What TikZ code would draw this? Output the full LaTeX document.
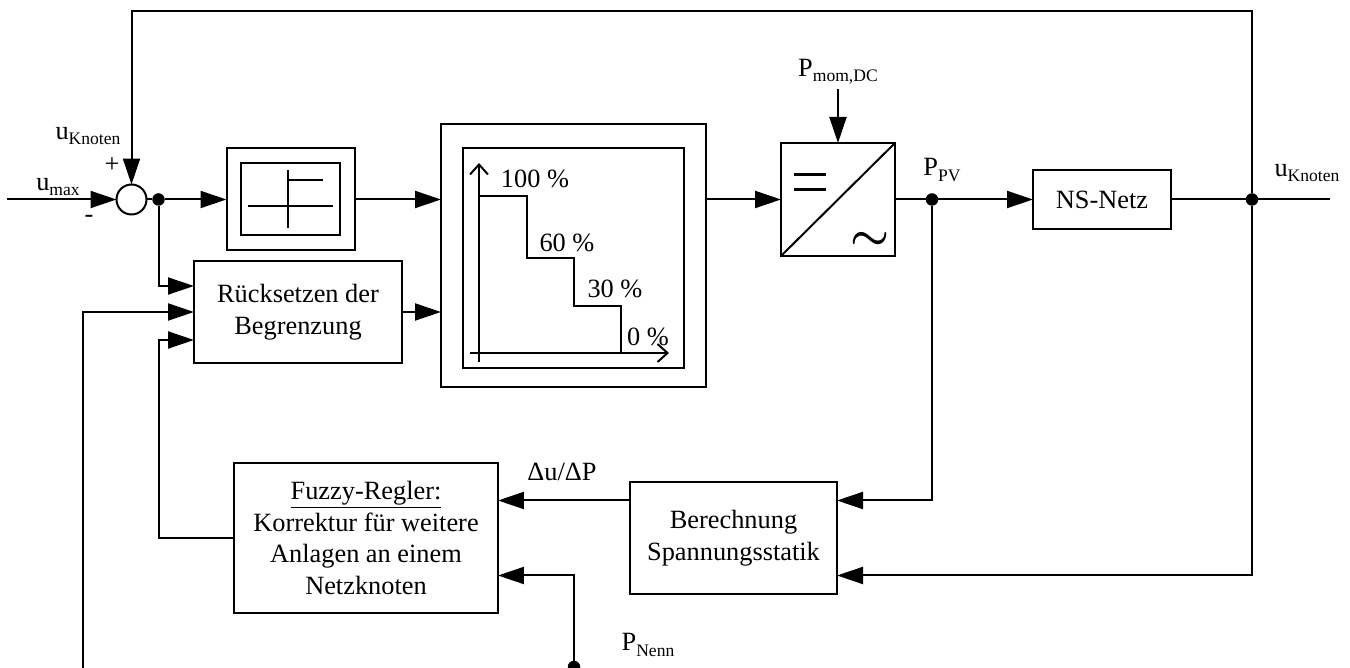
\documentclass[tikz,border=0pt]{standalone}
\usepackage{fontspec}
\setmainfont{Liberation Serif}
\usetikzlibrary{arrows.meta, positioning, calc}
\newcommand{\lowsub}[1]{\raisebox{-0.45ex}{\fontsize{10}{10}\selectfont #1}}

\begin{document}
\begin{tikzpicture}[x=0.02cm, y=-0.02cm, line width=0.04cm, ->, >={Triangle[length=0.52cm,width=0.34cm]},
		every node/.style={font=\fontsize{15}{18}\selectfont, inner sep=0pt, outer sep=0pt},
		block/.style 2 args={rectangle, draw=black, align=center, minimum width=#1*0.02cm, minimum height=#2*0.02cm},
		junction/.style={circle, fill=black, draw=none, minimum size=0.25cm},
		sumpoint/.style={circle, draw=black, minimum size=0.6cm},
		plain/.style={-},
		axis/.style={-{Straight Barb[length=0.2cm,width=0.36cm]}}]
		
		\useasboundingbox (0,0) rectangle (1350,668);
		
		\node[sumpoint] (Sum) at (131.5,199.5) {};
		\node[junction] (SumDot) at (158.5,199.5) {};
		\node[block={128}{102}] (LimOuter) at (290.5,199.5) {};
		\node[block={99}{72}] (LimInner) at (290.5,199.5) {};
		\node[block={208}{102}] (Reset) at (298,312) {Rücksetzen der \\ Begrenzung};
		\node[block={265}{263}] (StepOuter) at (573.5,255.5) {};
		\node[block={221}{220}] (StepInner) at (573.5,258) {};
		\node[block={114}{113}] (Conv) at (838,199.5) {};
		\node[junction] (PvDot) at (932,199.5) {};
		\node[block={138}{59}] (Netz) at (1102,199.5) {NS-Netz};
		\node[junction] (NetDot) at (1252,199.5) {};
		\node[block={264}{150}] (Fuzzy) at (366,538) {\underline{Fuzzy-Regler:} \\ Korrektur für weitere \\ Anlagen an einem \\ Netzknoten};
		\node[block={207}{112}] (Statik) at (733.5,538) {Berechnung \\ Spannungsstatik};
		\node[junction] (NennDot) at (574,667) {};
		
		\node (UmaxLabel) at (58,187) {u\lowsub{max}};
		\node (UKnotenLeft) at (88,136) {u\lowsub{Knoten}};
		\node (PlusLabel) at (112,165) {+};
		\node (MinusLabel) at (89,219) {-};
		\node (PmomLabel) at (838,72) {P\lowsub{mom,DC}};
		\node (PvLabel) at (942,170) {P\lowsub{PV}};
		\node (UKnotenRight) at (1307,173) {u\lowsub{Knoten}};
		\node (DeltaLabel) at (562,472) {Δu/ΔP};
		\node (NennLabel) at (648,645) {P\lowsub{Nenn}};
		
		\node (Label100) at (535,179) {100 \%};
		\node (Label60) at (567,243) {60 \%};
		\node (Label30) at (615,289) {30 \%};
		\node (Label0) at (648,337) {0 \%};
		\node[font=\fontsize{23}{23}\selectfont\boldmath] (Tilde) at (870,241) {$\sim$};
		
		\coordinate (UmaxIn) at (7,199.5);
		\coordinate (TopTurn) at (131.5,11);
		\coordinate (ResetIn1) at (194,286);
		\coordinate (ResetIn2) at (194,312);
		\coordinate (ResetIn3) at (194,340);
		\coordinate (LeftEnd) at (83,668);
		\coordinate (PmomIn) at (838,89);
		\coordinate (UOut) at (1330,199.5);
		\coordinate (FuzzyIn1) at (498,500.5);
		\coordinate (FuzzyIn2) at (498,575.5);
		\coordinate (StatikIn1) at (837,500.5);
		\coordinate (StatikIn2) at (837,575.5);
		
		\draw[->] (UmaxIn) -- (Sum);
		\draw[->] (NetDot) |- (TopTurn) -- (Sum);
		\draw[plain] (Sum) -- (SumDot);
		\draw[->] (SumDot) -- (LimOuter);
		\draw[->] (LimOuter) -- (LimOuter.east -| StepOuter.west);
		\draw[->] (SumDot) |- (ResetIn1);
		\draw[->] (LeftEnd) |- (ResetIn2);
		\draw[->] (Fuzzy.west) -| (ResetIn3 -| SumDot) -- (ResetIn3);
		\draw[->] (Reset) -- (Reset.east -| StepOuter.west);
		\draw[->] (Conv.west -| StepOuter.east) -- (Conv);
		\draw[->] (PmomIn) -- (Conv);
		\draw[plain] (Conv) -- (PvDot);
		\draw[->] (PvDot) -- (Netz);
		\draw[plain] (Netz) -- (NetDot);
		\draw[plain] (NetDot) -- (UOut);
		\draw[->] (PvDot) |- (StatikIn1);
		\draw[->] (NetDot) |- (StatikIn2);
		\draw[->] (FuzzyIn1 -| Statik.west) -- (FuzzyIn1);
		\draw[->] (NennDot) |- (FuzzyIn2);
		
		\draw[plain] (288,170) -- (288,228);
		\draw[plain] (248,206) -- (333,206);
		\draw[plain] (288,180) -- (323,180);
		
		\draw[axis] (479,362) -- (479,163);
		\draw[axis] (470,353) -- (669,353);
		\draw[plain] (479,196) -| (527,258) -| (574,306) -| (621,353);
		
		\draw[plain] (Conv.south west) -- (Conv.north east);
		\draw[plain, line width=0.06cm] (794,175) -- (826,175);
		\draw[plain, line width=0.06cm] (794,190) -- (826,190);
		
	\end{tikzpicture}
\end{document}
